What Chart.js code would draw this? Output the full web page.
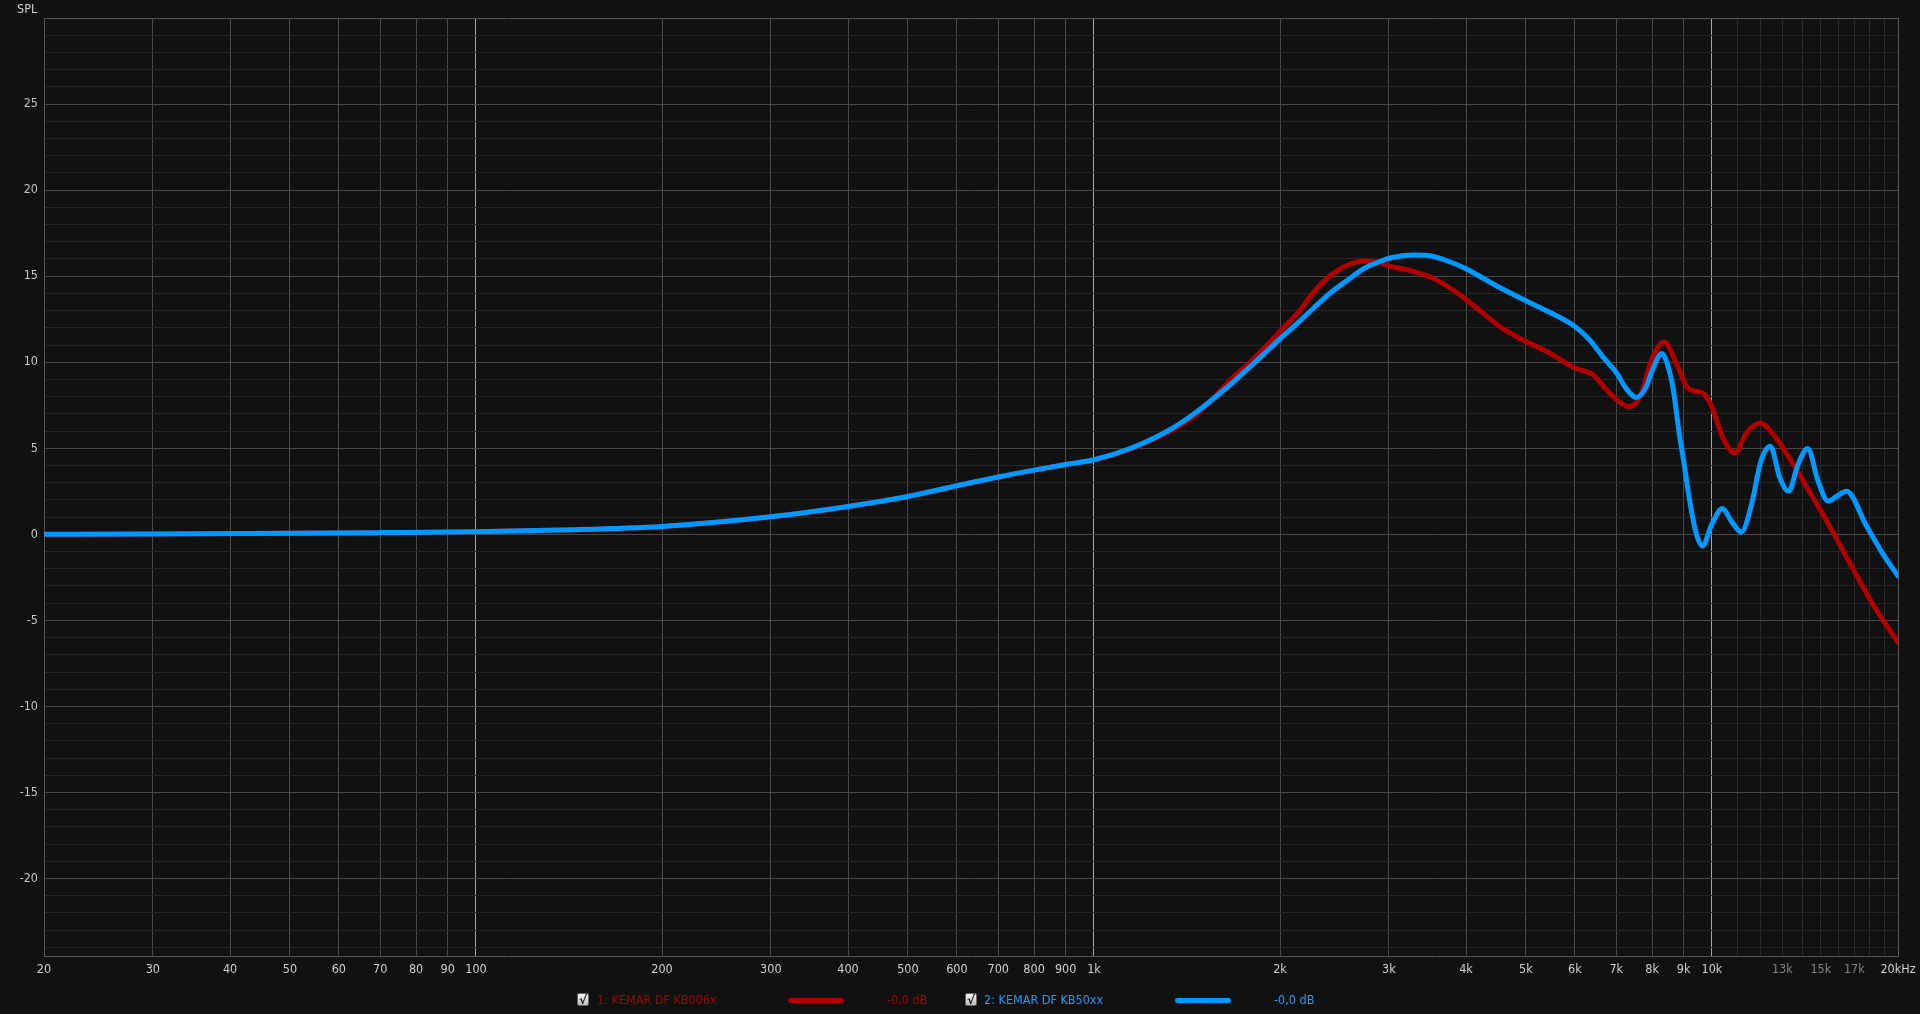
<!DOCTYPE html>
<html>
<head>
<meta charset="utf-8">
<script src="https://cdn.jsdelivr.net/npm/chart.js@4.4.1/dist/chart.umd.min.js"></script>
<style>
  html, body { margin: 0; padding: 0; background: #111111; overflow: hidden; }
  #wrap { position: relative; width: 1920px; height: 1014px; }
  canvas { position: absolute; left: 0; top: 0; }
  .txt { position: absolute; font-family: "Liberation Sans Narrow", "DejaVu Sans Condensed", "Arial Narrow", sans-serif; font-size: 12.5px; white-space: nowrap; line-height: 1; }
  .chk { position: absolute; width: 12px; height: 13px; background: linear-gradient(#f4f4f4, #bdbdbd); border: 1px solid #666; border-radius: 2px; box-sizing: border-box; color: #111; font-family: "DejaVu Sans", sans-serif; font-size: 12px; font-weight: bold; line-height: 12px; text-align: center; }
  .swatch { position: absolute; height: 5px; border-radius: 3px; }
</style>
</head>
<body>
<div id="wrap">
  <canvas id="c" width="1920" height="1014"></canvas>
  <div class="txt" style="left:17px; top:3px; color:#cfcfcf;">SPL</div>
  <div class="chk" style="left:577px; top:993px;">√</div>
  <div class="txt" style="left:597px; top:994px; color:#a80000;">1: KEMAR DF KB006x</div>
  <div class="swatch" style="left:788px; top:998px; width:56px; background:#b00000;"></div>
  <div class="txt" style="left:887px; top:994px; color:#a80000;">-0,0 dB</div>
  <div class="chk" style="left:965px; top:993px;">√</div>
  <div class="txt" style="left:984px; top:994px; color:#1a9cff;">2: KEMAR DF KB50xx</div>
  <div class="swatch" style="left:1175px; top:998px; width:56px; background:#0099ff;"></div>
  <div class="txt" style="left:1274px; top:994px; color:#1a9cff;">-0,0 dB</div>
</div>
<script>
// ---- data ----
const freqRed = [20,30,50,70,100,137,200,300,400,500,600,700,800,900,1000,1147,1298,1382,1471,1565,1666,1772,1886,2000,2135,2272,2418,2575,2738,2914,3000,3300,3512,3736,4000,4262,4535,4765,5000,5465,6000,6420,6750,7000,7330,7640,8000,8366,8756,9155,9440,9730,10000,10420,10890,11370,11960,12570,13540,14580,15710,16930,18240,20000];
const splRed  = [0,0.02,0.06,0.1,0.15,0.25,0.46,1.02,1.62,2.2,2.82,3.33,3.73,4.06,4.33,4.95,5.8,6.35,7.0,7.95,9.0,9.86,10.82,11.79,12.85,14.1,15.07,15.65,15.9,15.75,15.6,15.26,14.94,14.4,13.65,12.85,12.08,11.6,11.2,10.53,9.66,9.27,8.4,7.85,7.42,7.95,10.2,11.17,9.95,8.46,8.31,8.12,7.4,5.6,4.73,5.89,6.47,5.8,4.06,2.12,0.1,-2.03,-4.1,-6.28];

const freqBlue = [20,30,50,70,100,137,200,300,400,500,600,700,800,900,1000,1147,1298,1382,1471,1565,1666,1772,1886,2000,2135,2272,2418,2575,2738,2914,3000,3300,3512,3736,4000,4262,4535,5000,5465,6000,6340,6666,7000,7270,7545,7832,8000,8300,8450,8650,8866,9000,9205,9440,9651,10000,10395,10750,11160,11590,12000,12430,12880,13310,13780,14290,14850,15410,15900,16510,17790,18930,20000];
const splBlue  = [0,0.02,0.06,0.1,0.15,0.25,0.46,1.02,1.62,2.2,2.82,3.33,3.73,4.06,4.33,5.0,5.89,6.47,7.15,7.92,8.73,9.6,10.5,11.36,12.27,13.18,14.05,14.78,15.46,15.88,16.04,16.23,16.17,15.88,15.43,14.88,14.34,13.57,12.9,12.08,11.3,10.3,9.4,8.45,7.95,8.6,9.5,10.5,10.0,8.5,5.7,4.25,1.93,0.0,-0.68,0.6,1.5,0.77,0.13,1.74,4.25,5.12,3.28,2.51,4.06,4.99,3.09,1.93,2.2,2.51,0.48,-1.16,-2.42];

const xTickValues = [20,30,40,50,60,70,80,90,100,200,300,400,500,600,700,800,900,1000,2000,3000,4000,5000,6000,7000,8000,9000,10000,11000,12000,13000,14000,15000,16000,17000,18000,19000,20000];
const xTickLabels = ['20','30','40','50','60','70','80','90','100','200','300','400','500','600','700','800','900','1k','2k','3k','4k','5k','6k','7k','8k','9k','10k','','','13k','','15k','','17k','','','20kHz'];
const yTickValues = [];
for (let v = -24; v <= 30; v++) yTickValues.push(v);
const yLabelStep = 5;

// ---- chart ----
const FONT = "'Liberation Sans Narrow', 'DejaVu Sans Condensed', 'Arial Narrow', sans-serif";
const toPts = (fx, fy) => fx.map((f, i) => ({ x: f, y: fy[i] }));

new Chart(document.getElementById('c').getContext('2d'), {
  type: 'line',
  data: {
    datasets: [
      { label: '2: KEMAR DF KB50xx', data: toPts(freqBlue, splBlue), borderColor: '#0099ff', borderWidth: 5,
        pointRadius: 0, cubicInterpolationMode: 'monotone', borderCapStyle: 'round', borderJoinStyle: 'round', fill: false },
      { label: '1: KEMAR DF KB006x', data: toPts(freqRed, splRed), borderColor: '#b00000', borderWidth: 5,
        pointRadius: 0, cubicInterpolationMode: 'monotone', borderCapStyle: 'round', borderJoinStyle: 'round', fill: false }
    ]
  },
  options: {
    responsive: false,
    animation: false,
    events: [],
    layout: { padding: { left: 0, right: 22, top: 18, bottom: 0 } },
    plugins: { legend: { display: false }, tooltip: { enabled: false } },
    scales: {
      x: {
        type: 'logarithmic', min: 20, max: 20000,
        afterBuildTicks: s => { s.ticks = xTickValues.map(v => ({ value: v })); },
        afterFit: s => { s.height = 58; s.paddingLeft = 0; s.paddingRight = 0; },
        border: { color: '#555555', width: 1 },
        grid: {
          drawTicks: false, lineWidth: 1,
          color: c => {
            const v = c.tick ? c.tick.value : 0;
            if (v === 100 || v === 1000 || v === 10000) return '#a8a8a8';
            if (v === 20000) return '#555555';
            if (v > 10000) return '#2a2a2a';
            return '#4a4a4a';
          }
        },
        ticks: {
          autoSkip: false, maxRotation: 0, minRotation: 0, padding: 6,
          font: { family: FONT, size: 12.5 },
          color: c => {
            const v = c.tick ? c.tick.value : 0;
            return (v > 10000 && v < 20000) ? '#808080' : '#cfcfcf';
          },
          callback: (v) => { const i = xTickValues.indexOf(v); return i >= 0 ? xTickLabels[i] : ''; }
        }
      },
      y: {
        type: 'linear', min: -24.5, max: 30,
        afterBuildTicks: s => { s.ticks = yTickValues.map(v => ({ value: v })); },
        afterFit: s => { s.width = 44; s.paddingTop = 0; s.paddingBottom = 0; },
        border: { color: '#555555', width: 1 },
        grid: {
          drawTicks: false, lineWidth: 1,
          color: c => {
            const v = c.tick ? c.tick.value : 0;
            if (v === 30) return '#555555';
            return (v % yLabelStep === 0) ? '#474747' : '#262626';
          }
        },
        ticks: {
          autoSkip: false, padding: 6,
          font: { family: FONT, size: 12.5 },
          color: '#c4c4c4',
          callback: (v) => (v % yLabelStep === 0 && v !== 30) ? String(v) : ''
        }
      }
    }
  }
});
</script>
</body>
</html>
